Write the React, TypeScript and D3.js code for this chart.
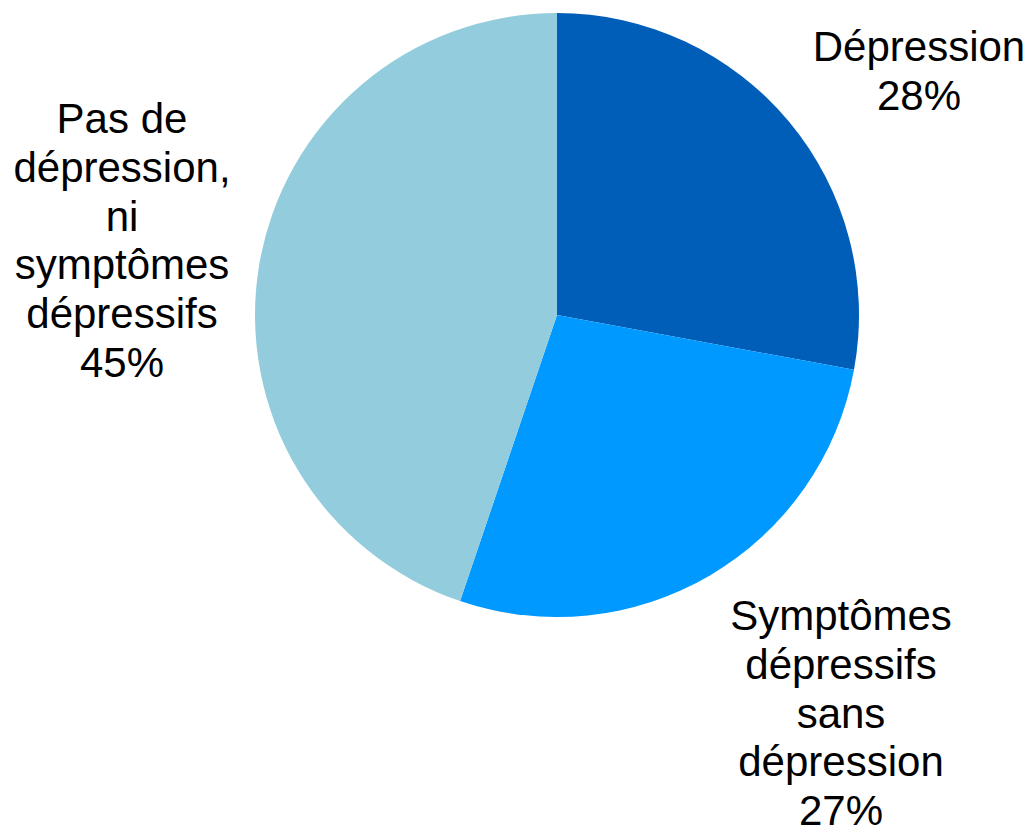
import React from "react";
import * as d3 from "d3";

const categories = ["Dépression", "Symptômes dépressifs sans dépression", "Pas de dépression, ni symptômes dépressifs"];
const values = [27.9, 27.3, 44.8];
const percentLabels = ["28%", "27%", "45%"];
const colors = ["#005EB8", "#0099FF", "#93CDDD"];
const nameLines = [
  ["Dépression"],
  ["Symptômes", "dépressifs", "sans", "dépression"],
  ["Pas de", "dépression,", "ni", "symptômes", "dépressifs"],
];

const W = 1030;
const H = 829;
const cx = 557;
const cy = 315;
const R = 302;
const labelPos: [number, number][] = [
  [919, 61],
  [841, 630],
  [122, 133],
];
const lineH = 48.8;
const fontSize = 42;

export default function App() {
  const pie = d3.pie<number>().sort(null).value((d) => d);
  const arcs = pie(values);
  const arc = d3.arc<d3.PieArcDatum<number>>().innerRadius(0).outerRadius(R);
  return (
    <svg width={W} height={H} style={{ position: "absolute", left: 0, top: 0, background: "#fff" }}>
      <g transform={`translate(${cx},${cy})`}>
        {arcs.map((a, i) => (
          <path key={i} d={arc(a) || ""} fill={colors[i]}>
            <title>{categories[i]}</title>
          </path>
        ))}
      </g>
      {nameLines.map((lines, i) => {
        const all = [...lines, percentLabels[i]];
        return (
          <text
            key={i}
            textAnchor="middle"
            fontFamily="Liberation Sans, Arial, sans-serif"
            fontSize={fontSize}
            fill="#000"
          >
            {all.map((l, j) => (
              <tspan key={j} x={labelPos[i][0]} y={labelPos[i][1] + j * lineH}>
                {l}
              </tspan>
            ))}
          </text>
        );
      })}
    </svg>
  );
}
